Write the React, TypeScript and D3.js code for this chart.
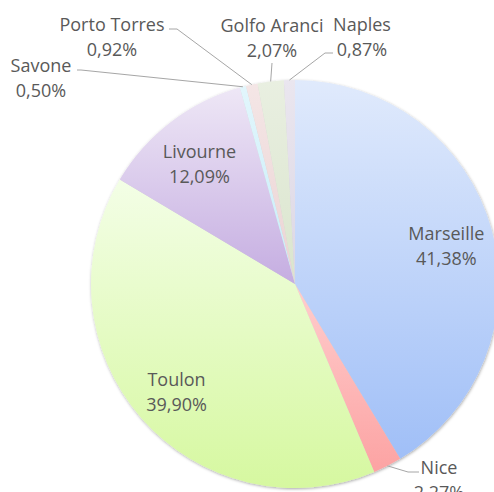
import React from "react";
import * as d3 from "d3";

const categories = ["Marseille", "Nice", "Toulon", "Livourne", "Savone", "Porto Torres", "Golfo Aranci", "Naples"];
const values = [41.38, 2.27, 39.9, 12.09, 0.5, 0.92, 2.07, 0.87];
const labels = ["41,38%", "2,27%", "39,90%", "12,09%", "0,50%", "0,92%", "2,07%", "0,87%"];

const colorTop = ["#e0eafc", "#ffcece", "#f3fee6", "#eee7f6", "#e2f6fc", "#f4e6e6", "#e9efe1", "#eae6ef"];
const colorBottom = ["#a0bff7", "#fca3a3", "#d6f8a0", "#c5ade1", "#c6edf9", "#ebd3d3", "#dae5cd", "#dcd7e4"];

type Lay = { inside: boolean; x?: number; y?: number; leader?: [number, number][] };
const layout: Lay[] = [
  { inside: true },
  { inside: false, x: 439, y: 474, leader: [[419, 472], [408, 472]] },
  { inside: true },
  { inside: true },
  { inside: false, x: 41, y: 72, leader: [[77, 70], [81, 70]] },
  { inside: false, x: 112, y: 31, leader: [[169, 29], [177, 29]] },
  { inside: false, x: 272, y: 32, leader: [[272, 63]] },
  { inside: false, x: 362, y: 31, leader: [[333, 53], [325, 53]] },
];

const W = 494, H = 492;
const cx = 295, cy = 284, R = 204;
const font = "'Open Sans', Carlito, Calibri, sans-serif";
const fontSize = 18;
const lineGap = 25;

export default function App() {
  const pie = d3.pie<number>().sort(null).value((d) => d).startAngle(0).endAngle(2 * Math.PI);
  const arcs = pie(values);
  const arc = d3.arc<d3.PieArcDatum<number>>().innerRadius(0).outerRadius(R);
  const labelArc = d3.arc<d3.PieArcDatum<number>>().innerRadius(R * 0.77).outerRadius(R * 0.77);

  return (
    <svg width={W} height={H} style={{ position: "absolute", left: 0, top: 0, background: "#fff" }}>
      <defs>
        {arcs.map((a, i) => (
          <linearGradient key={i} id={`g${i}`} x1="0" y1="0" x2="0" y2="1">
            <stop offset="0" stopColor={colorTop[i]} />
            <stop offset="1" stopColor={colorBottom[i]} />
          </linearGradient>
        ))}
        <filter id="shadow" x="-10%" y="-10%" width="120%" height="120%">
          <feDropShadow dx="0.5" dy="1" stdDeviation="1.6" floodColor="#000" floodOpacity="0.35" />
        </filter>
      </defs>
      <g transform={`translate(${cx},${cy})`}>
        <g filter="url(#shadow)">
          {arcs.map((a, i) => (
            <path key={i} d={arc(a) || ""} fill={`url(#g${i})`} />
          ))}
        </g>
      </g>
      {arcs.map((a, i) => {
        const lay = layout[i];
        if (lay.inside) {
          const [lx, ly] = labelArc.centroid(a);
          const x = cx + lx, y = cy + ly;
          return (
            <text key={i} x={x} y={y} textAnchor="middle" fontFamily={font} fontSize={fontSize} fill="#595959">
              <tspan x={x} dy={-lineGap / 2 + 11}>{categories[i]}</tspan>
              <tspan x={x} dy={lineGap}>{labels[i]}</tspan>
            </text>
          );
        }
        const mid = (a.startAngle + a.endAngle) / 2;
        const px = cx + R * Math.sin(mid), py = cy - R * Math.cos(mid);
        const pts: [number, number][] = [...(lay.leader || []), [px, py]];
        return (
          <g key={i}>
            <path d={d3.line()(pts) || ""} fill="none" stroke="#a6a6a6" strokeWidth={1} />
            <text x={lay.x} y={lay.y} textAnchor="middle" fontFamily={font} fontSize={fontSize} fill="#595959">
              <tspan x={lay.x} dy={0}>{categories[i]}</tspan>
              <tspan x={lay.x} dy={lineGap}>{labels[i]}</tspan>
            </text>
          </g>
        );
      })}
    </svg>
  );
}
